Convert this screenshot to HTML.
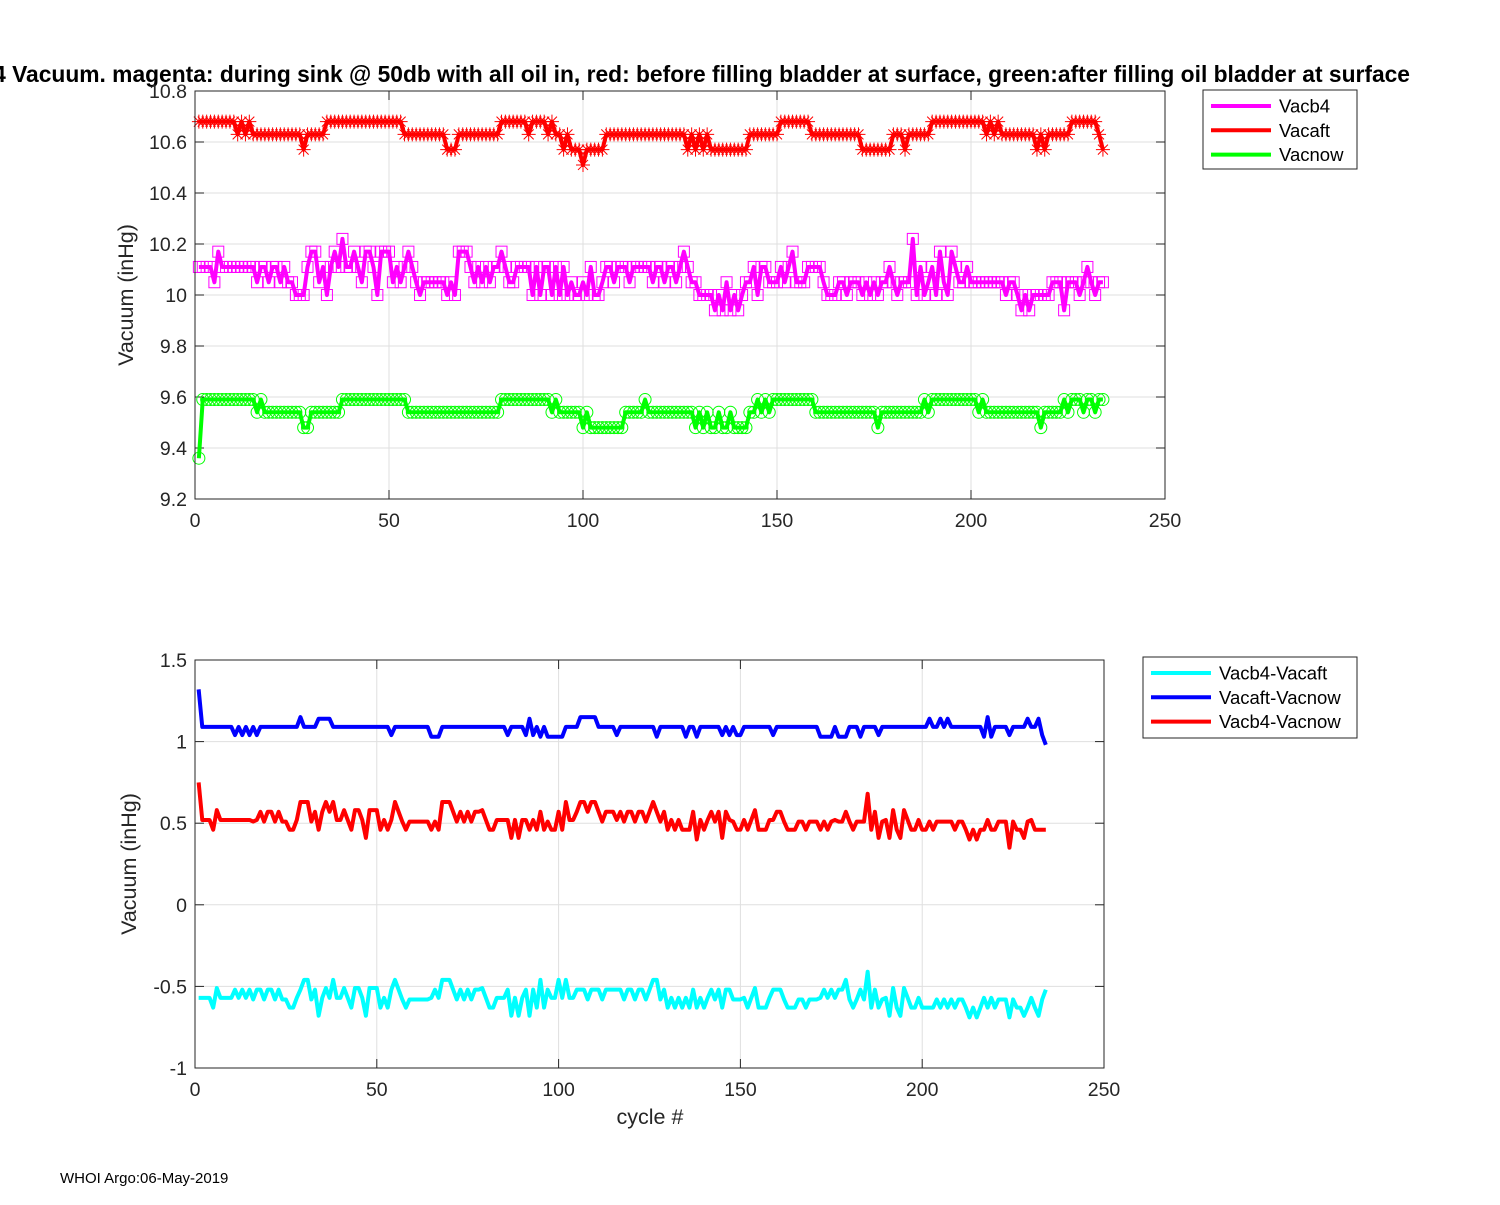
<!DOCTYPE html>
<html><head><meta charset="utf-8"><style>
body{margin:0;background:#fff}
svg text{font-family:"Liberation Sans",Arial,sans-serif;fill:#262626}
</style></head><body>
<svg id="fig" width="1500" height="1200" viewBox="0 0 1500 1200" xmlns="http://www.w3.org/2000/svg">
<text x="1410" y="82" text-anchor="end" font-size="22.8" font-weight="bold" style="fill:#000">Vacb4 Vacuum. magenta: during sink @ 50db with all oil in, red: before filling bladder at surface, green:after filling oil bladder at surface</text>
<g id="top"></g>
<g id="bot"></g>
<text x="60" y="1183" font-size="15" style="fill:#000">WHOI Argo:06-May-2019</text>
</svg>
<script>
const vacaft=[10.68,10.68,10.68,10.68,10.68,10.68,10.68,10.68,10.68,10.68,
10.63,10.68,10.63,10.68,10.63,10.63,10.63,10.63,10.63,10.63,
10.63,10.63,10.63,10.63,10.63,10.63,10.63,10.57,10.63,10.63,
10.63,10.63,10.63,10.68,10.68,10.68,10.68,10.68,10.68,10.68,
10.68,10.68,10.68,10.68,10.68,10.68,10.68,10.68,10.68,10.68,
10.68,10.68,10.68,10.63,10.63,10.63,10.63,10.63,10.63,10.63,
10.63,10.63,10.63,10.63,10.57,10.57,10.57,10.63,10.63,10.63,
10.63,10.63,10.63,10.63,10.63,10.63,10.63,10.63,10.68,10.68,
10.68,10.68,10.68,10.68,10.68,10.63,10.68,10.68,10.68,10.68,
10.63,10.68,10.63,10.63,10.57,10.63,10.57,10.57,10.57,10.51,
10.57,10.57,10.57,10.57,10.57,10.63,10.63,10.63,10.63,10.63,
10.63,10.63,10.63,10.63,10.63,10.63,10.63,10.63,10.63,10.63,
10.63,10.63,10.63,10.63,10.63,10.63,10.57,10.63,10.57,10.63,
10.57,10.63,10.57,10.57,10.57,10.57,10.57,10.57,10.57,10.57,
10.57,10.57,10.63,10.63,10.63,10.63,10.63,10.63,10.63,10.63,
10.68,10.68,10.68,10.68,10.68,10.68,10.68,10.68,10.63,10.63,
10.63,10.63,10.63,10.63,10.63,10.63,10.63,10.63,10.63,10.63,
10.63,10.57,10.57,10.57,10.57,10.57,10.57,10.57,10.57,10.63,
10.63,10.63,10.57,10.63,10.63,10.63,10.63,10.63,10.63,10.68,
10.68,10.68,10.68,10.68,10.68,10.68,10.68,10.68,10.68,10.68,
10.68,10.68,10.68,10.63,10.68,10.63,10.68,10.63,10.63,10.63,
10.63,10.63,10.63,10.63,10.63,10.63,10.57,10.63,10.57,10.63,
10.63,10.63,10.63,10.63,10.63,10.68,10.68,10.68,10.68,10.68,
10.68,10.68,10.63,10.57];
const vacb4=[10.11,10.11,10.11,10.11,10.05,10.17,10.11,10.11,10.11,10.11,
10.11,10.11,10.11,10.11,10.11,10.05,10.11,10.11,10.05,10.11,
10.11,10.05,10.11,10.05,10.05,10.00,10.00,10.00,10.11,10.17,
10.17,10.05,10.11,10.00,10.11,10.17,10.11,10.22,10.11,10.11,
10.17,10.11,10.05,10.17,10.17,10.11,10.00,10.17,10.17,10.17,
10.05,10.11,10.05,10.11,10.17,10.11,10.05,10.00,10.05,10.05,
10.05,10.05,10.05,10.05,10.00,10.05,10.00,10.17,10.17,10.17,
10.11,10.05,10.11,10.05,10.11,10.05,10.11,10.11,10.17,10.11,
10.05,10.05,10.11,10.11,10.11,10.11,10.00,10.11,10.00,10.11,
10.11,10.00,10.11,10.00,10.11,10.00,10.05,10.00,10.00,10.05,
10.00,10.11,10.00,10.00,10.05,10.11,10.11,10.05,10.11,10.11,
10.11,10.05,10.11,10.11,10.11,10.11,10.11,10.05,10.11,10.11,
10.05,10.11,10.11,10.05,10.11,10.17,10.11,10.05,10.05,10.00,
10.00,10.00,10.00,9.94,10.00,9.94,10.05,9.94,10.00,9.94,
10.00,10.05,10.05,10.11,10.00,10.11,10.11,10.05,10.05,10.05,
10.11,10.05,10.11,10.17,10.05,10.05,10.05,10.11,10.11,10.11,
10.11,10.05,10.00,10.00,10.00,10.05,10.05,10.00,10.05,10.05,
10.05,10.00,10.05,10.00,10.05,10.00,10.05,10.05,10.11,10.05,
10.00,10.05,10.05,10.05,10.22,10.00,10.11,10.00,10.05,10.11,
10.00,10.17,10.05,10.00,10.17,10.11,10.05,10.05,10.11,10.05,
10.05,10.05,10.05,10.05,10.05,10.05,10.05,10.05,10.00,10.05,
10.05,10.00,9.94,10.00,9.94,10.00,10.00,10.00,10.00,10.00,
10.05,10.05,10.05,9.94,10.05,10.05,10.05,10.00,10.05,10.11,
10.05,10.00,10.05,10.05];
const vacnow=[9.36,9.59,9.59,9.59,9.59,9.59,9.59,9.59,9.59,9.59,
9.59,9.59,9.59,9.59,9.59,9.54,9.59,9.54,9.54,9.54,
9.54,9.54,9.54,9.54,9.54,9.54,9.54,9.48,9.48,9.54,
9.54,9.54,9.54,9.54,9.54,9.54,9.54,9.59,9.59,9.59,
9.59,9.59,9.59,9.59,9.59,9.59,9.59,9.59,9.59,9.59,
9.59,9.59,9.59,9.59,9.54,9.54,9.54,9.54,9.54,9.54,
9.54,9.54,9.54,9.54,9.54,9.54,9.54,9.54,9.54,9.54,
9.54,9.54,9.54,9.54,9.54,9.54,9.54,9.54,9.59,9.59,
9.59,9.59,9.59,9.59,9.59,9.59,9.59,9.59,9.59,9.59,
9.59,9.54,9.59,9.54,9.54,9.54,9.54,9.54,9.54,9.48,
9.54,9.48,9.48,9.48,9.48,9.48,9.48,9.48,9.48,9.48,
9.54,9.54,9.54,9.54,9.54,9.59,9.54,9.54,9.54,9.54,
9.54,9.54,9.54,9.54,9.54,9.54,9.54,9.54,9.48,9.54,
9.48,9.54,9.48,9.48,9.54,9.48,9.48,9.54,9.48,9.48,
9.48,9.48,9.54,9.54,9.59,9.54,9.59,9.54,9.59,9.59,
9.59,9.59,9.59,9.59,9.59,9.59,9.59,9.59,9.59,9.54,
9.54,9.54,9.54,9.54,9.54,9.54,9.54,9.54,9.54,9.54,
9.54,9.54,9.54,9.54,9.54,9.48,9.54,9.54,9.54,9.54,
9.54,9.54,9.54,9.54,9.54,9.54,9.54,9.59,9.54,9.59,
9.59,9.59,9.59,9.59,9.59,9.59,9.59,9.59,9.59,9.59,
9.59,9.54,9.59,9.54,9.54,9.54,9.54,9.54,9.54,9.54,
9.54,9.54,9.54,9.54,9.54,9.54,9.54,9.48,9.54,9.54,
9.54,9.54,9.54,9.59,9.54,9.59,9.59,9.59,9.54,9.59,
9.59,9.54,9.59,9.59];
const topXTicks=[0,50,100,150,200,250];
const topYTicks=[9.2,9.4,9.6,9.8,10,10.2,10.4,10.6,10.8];
const botXTicks=[0,50,100,150,200,250];
const botYTicks=[-1,-0.5,0,0.5,1,1.5];
const topLegend=["Vacb4","Vacaft","Vacnow"];
const botLegend=["Vacb4-Vacaft","Vacaft-Vacnow","Vacb4-Vacnow"];

const NS="http://www.w3.org/2000/svg";
function mk(parent,tag,attrs){const e=document.createElementNS(NS,tag);for(const k in attrs)e.setAttribute(k,attrs[k]);parent.appendChild(e);return e;}

function axes(g,box,xd,yd,xt,yt,fmt){
  const sx=v=>box.x0+(v-xd[0])/(xd[1]-xd[0])*(box.x1-box.x0);
  const sy=v=>box.y1-(v-yd[0])/(yd[1]-yd[0])*(box.y1-box.y0);
  mk(g,'rect',{x:box.x0,y:box.y0,width:box.x1-box.x0,height:box.y1-box.y0,fill:'#fff'});
  xt.forEach(t=>{const x=sx(t);
    const l=mk(g,'line',{x1:x,x2:x,y1:box.y0,y2:box.y1,stroke:'#dfdfdf','stroke-width':1});
    
    
    mk(g,'line',{x1:x,x2:x,y1:box.y1,y2:box.y1-9,stroke:'#262626'});
    mk(g,'line',{x1:x,x2:x,y1:box.y0,y2:box.y0+9,stroke:'#262626'});
    const tx=mk(g,'text',{x:x,y:box.y1+28,'text-anchor':'middle','font-size':19.5});tx.textContent=t;
    
    
  });
  yt.forEach(t=>{const y=sy(t);
    const l=mk(g,'line',{x1:box.x0,x2:box.x1,y1:y,y2:y,stroke:'#dfdfdf','stroke-width':1});
    
    
    mk(g,'line',{x1:box.x0,x2:box.x0+9,y1:y,y2:y,stroke:'#262626'});
    mk(g,'line',{x1:box.x1,x2:box.x1-9,y1:y,y2:y,stroke:'#262626'});
    const tx=mk(g,'text',{x:box.x0-8,y:y+7,'text-anchor':'end','font-size':19.5});tx.textContent=fmt(t);
    
    
  });
  return {sx,sy};
}
function frame(g,box){const r=mk(g,'rect',{x:box.x0,y:box.y0,width:box.x1-box.x0,height:box.y1-box.y0,fill:'none',stroke:'#262626','stroke-width':1});
  
  }
function line(g,data,sx,sy,color,name){
  const pts=data.map((v,i)=>sx(i+1).toFixed(2)+','+sy(v).toFixed(2)).join(' ');
  const p=mk(g,'polyline',{points:pts,fill:'none',stroke:color,'stroke-width':4,'stroke-linejoin':'round'});
  
  
}
function markers(g,data,sx,sy,color,type,name){
  const mg=mk(g,'g',{stroke:color,'stroke-width':1,fill:'none'});
  
  
  data.forEach((v,i)=>{const x=sx(i+1),y=sy(v);
    if(type==='sq')mk(mg,'rect',{x:x-5.5,y:y-5.5,width:11,height:11});
    else if(type==='ci')mk(mg,'circle',{cx:x,cy:y,r:6});
    else{const s=7,d=5;mk(mg,'path',{d:`M${x-s},${y}H${x+s}M${x},${y-s}V${y+s}M${x-d},${y-d}L${x+d},${y+d}M${x-d},${y+d}L${x+d},${y-d}`});}
  });
}
function legend(g,box,labels,colors){
  const r=mk(g,'rect',{x:box.x,y:box.y,width:box.w,height:box.h,fill:'#fff',stroke:'#262626'});
  
  
  labels.forEach((lab,i)=>{const y=box.y+16+i*24.3;
    const e=mk(g,'g',{});
    
    
    mk(e,'line',{x1:box.x+8,x2:box.x+68,y1:y,y2:y,stroke:colors[i],'stroke-width':4});
    const t=mk(e,'text',{x:box.x+76,y:y+6.5,'font-size':18.5,style:'fill:#000'});t.textContent=lab;
  });
}
function ylabel(g,x,y,txt){const t=mk(g,'text',{x:x,y:y,'text-anchor':'middle','font-size':21.5,transform:`rotate(-90 ${x} ${y})`});t.textContent=txt;
  
  }

// top plot
const T=document.getElementById('top');
const tb={x0:195,x1:1165,y0:91,y1:499};
const ta=axes(T,tb,[0,250],[9.2,10.8],topXTicks,topYTicks,v=>String(+v.toFixed(1)));
line(T,vacb4,ta.sx,ta.sy,'#ff00ff','vacb4-line');
markers(T,vacb4,ta.sx,ta.sy,'#ff00ff','sq','vacb4-markers');
line(T,vacaft,ta.sx,ta.sy,'#ff0000','vacaft-line');
markers(T,vacaft,ta.sx,ta.sy,'#ff0000','st','vacaft-markers');
line(T,vacnow,ta.sx,ta.sy,'#00ff00','vacnow-line');
markers(T,vacnow,ta.sx,ta.sy,'#00ff00','ci','vacnow-markers');
frame(T,tb);
ylabel(T,133,295,'Vacuum (inHg)');
legend(T,{x:1203,y:90,w:154,h:79},topLegend,['#ff00ff','#ff0000','#00ff00']);

// bottom plot (derived differences)
const B=document.getElementById('bot');
const bb={x0:195,x1:1104,y0:660,y1:1068};
const ba=axes(B,bb,[0,250],[-1,1.5],botXTicks,botYTicks,v=>String(v));
const d1=vacb4.map((v,i)=>+(v-vacaft[i]).toFixed(2));
const d2=vacaft.map((v,i)=>+(v-vacnow[i]).toFixed(2));
const d3=vacb4.map((v,i)=>+(v-vacnow[i]).toFixed(2));
line(B,d1,ba.sx,ba.sy,'#00ffff','vacb4-vacaft-line');
line(B,d2,ba.sx,ba.sy,'#0000ff','vacaft-vacnow-line');
line(B,d3,ba.sx,ba.sy,'#ff0000','vacb4-vacnow-line');
frame(B,bb);
ylabel(B,136,864,'Vacuum (inHg)');
const xl=mk(B,'text',{x:650,y:1124,'text-anchor':'middle','font-size':21.5});xl.textContent='cycle #';


legend(B,{x:1143,y:657,w:214,h:81},botLegend,['#00ffff','#0000ff','#ff0000']);
</script>
</body></html>
